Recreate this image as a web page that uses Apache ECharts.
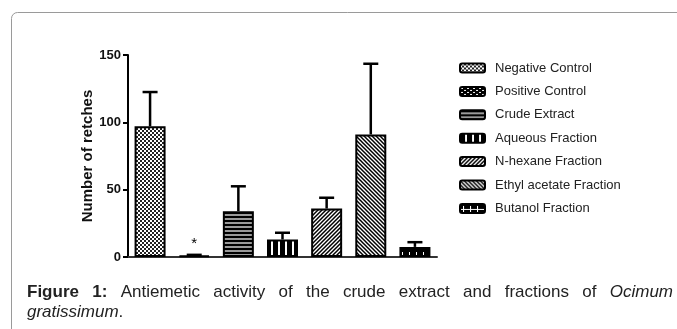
<!DOCTYPE html>
<html>
<head>
<meta charset="utf-8">
<script src="https://cdn.jsdelivr.net/npm/echarts@6/dist/echarts.min.js"></script>
<style>
html,body{margin:0;padding:0;background:#fff;}
#main{width:677px;height:329px;}
</style>
</head>
<body>
<div id="main"></div>
<script>
//数据
var categories = ['Negative Control','Positive Control','Crude Extract','Aqueous Fraction','N-hexane Fraction','Ethyl acetate Fraction','Butanol Fraction'];
var means = [97, 1, 34, 13, 36, 91, 7.5];//平均值
var sems = [25.5, 0.6, 18.5, 5, 8, 52.5, 3.5];//误差
var yTicks = [0, 50, 100, 150];
var starMarked = ['Positive Control'];

var FONT = '"Liberation Sans", Arial, sans-serif';

//图案小方块
var makeTile = function(w, h, draw){
	var c = document.createElement('canvas');
	c.width = w; c.height = h;
	var ctx = c.getContext('2d');
	draw(ctx, w, h);
	return c;
}
var tiles = [
	makeTile(4, 4, function(ctx){//棋盘
		ctx.fillStyle = '#fff'; ctx.fillRect(0,0,4,4);
		ctx.fillStyle = '#222'; ctx.fillRect(0,0,2,2); ctx.fillRect(2,2,2,2);
	}),
	makeTile(6, 4, function(ctx){
		ctx.fillStyle = '#000'; ctx.fillRect(0,0,6,4);
		ctx.fillStyle = '#fff'; ctx.fillRect(1,1,2,1); ctx.fillRect(4,3,2,1);
	}),
	makeTile(4, 4, function(ctx){//横线
		ctx.fillStyle = '#000'; ctx.fillRect(0,0,4,4);
		ctx.fillStyle = '#9a9a9a'; ctx.fillRect(0,2,4,2);
	}),
	makeTile(7, 4, function(ctx){//竖线
		ctx.fillStyle = '#000'; ctx.fillRect(0,0,7,4);
		ctx.fillStyle = '#fff'; ctx.fillRect(5,0,2,4);
	}),
	makeTile(4, 4, function(ctx){//斜线 /
		ctx.fillStyle = '#fff'; ctx.fillRect(0,0,4,4);
		ctx.strokeStyle = '#000'; ctx.lineWidth = 1.5;
		ctx.beginPath();
		ctx.moveTo(0,4); ctx.lineTo(4,0);
		ctx.moveTo(-1,1); ctx.lineTo(1,-1);
		ctx.moveTo(3,5); ctx.lineTo(5,3);
		ctx.stroke();
	}),
	makeTile(4, 4, function(ctx){//斜线 \
		ctx.fillStyle = '#fff'; ctx.fillRect(0,0,4,4);
		ctx.strokeStyle = '#000'; ctx.lineWidth = 1.5;
		ctx.beginPath();
		ctx.moveTo(0,0); ctx.lineTo(4,4);
		ctx.moveTo(-1,3); ctx.lineTo(1,5);
		ctx.moveTo(3,-1); ctx.lineTo(5,1);
		ctx.stroke();
	}),
	makeTile(7, 10, function(ctx){//十字
		ctx.fillStyle = '#000'; ctx.fillRect(0,0,7,10);
		ctx.fillStyle = '#fff'; ctx.fillRect(0,5,7,1); ctx.fillRect(3,2,1,7);
	})
];

var dom = document.getElementById('main');
var myChart = echarts.init(dom, null, {renderer:'canvas'});

//柱子系列, 每个类别一个系列方便图例
var series = [];
for(var i=0;i<categories.length;i++){
	var d = [];
	for(var j=0;j<categories.length;j++){
		d.push(j==i ? means[i] : '-');
	}
	series.push({
		name: categories[i],
		type: 'bar',
		data: d,
		barWidth: 31,
		barGap: '-100%',
		z: 3,
		itemStyle: {
			color: {image: tiles[i], repeat: 'repeat'},
			borderColor: '#000',
			borderWidth: 2
		},
		label: {
			show: starMarked.indexOf(categories[i]) >= 0,
			position: 'top',
			distance: 4,
			formatter: '*',
			color: '#000',
			fontSize: 15,
			fontFamily: FONT
		}
	});
}
//误差线
series.push({
	type: 'custom',
	z: 2,
	data: means.map(function(m, i){ return [i, m, m + sems[i]]; }),
	renderItem: function(params, api){
		var x = api.value(0);
		var base = api.coord([x, api.value(1)]);
		var top = api.coord([x, api.value(2)]);
		var hw = 7.5;
		return {
			type: 'group',
			children: [
				{type:'line', shape:{x1:base[0], y1:base[1], x2:top[0], y2:top[1]}, style:{stroke:'#000', lineWidth:2.5}},
				{type:'line', shape:{x1:top[0]-hw, y1:top[1], x2:top[0]+hw, y2:top[1]}, style:{stroke:'#000', lineWidth:2.5}}
			]
		};
	}
});

//图注, 两端对齐
var measure = document.createElement('canvas').getContext('2d');
var line1 = [
	{t:'Figure', f:'bold'}, {t:'1:', f:'bold'}, {t:'Antiemetic', f:''}, {t:'activity', f:''},
	{t:'of', f:''}, {t:'the', f:''}, {t:'crude', f:''}, {t:'extract', f:''}, {t:'and', f:''},
	{t:'fractions', f:''}, {t:'of', f:''}, {t:'Ocimum', f:'italic'}
];
var capSize = 17, capLeft = 27, capRight = 673, capY1 = 292, capY2 = 312;
var fontOf = function(f){ return (f ? f + ' ' : '') + capSize + 'px ' + FONT; }
var total = 0;
line1.forEach(function(w){ measure.font = fontOf(w.f); w.w = measure.measureText(w.t).width; total += w.w; });
var gap = (capRight - capLeft - total) / (line1.length - 1);
var graphics = [];
var cx = capLeft;
line1.forEach(function(w){
	graphics.push({type:'text', x:cx, y:capY1, style:{text:w.t, font:fontOf(w.f), fill:'#222', verticalAlign:'middle'}});
	cx += w.w + gap;
});
measure.font = fontOf('italic');
var gw = measure.measureText('gratissimum').width;
graphics.push({type:'text', x:capLeft, y:capY2, style:{text:'gratissimum', font:fontOf('italic'), fill:'#222', verticalAlign:'middle'}});
graphics.push({type:'text', x:capLeft+gw, y:capY2, style:{text:'.', font:fontOf(''), fill:'#222', verticalAlign:'middle'}});
//外框
graphics.push({type:'rect', z:-1, shape:{x:11.5, y:12.5, width:700, height:400, r:[6,0,0,0]}, style:{fill:'none', stroke:'#9a9a9a', lineWidth:1}});

var option = {
	animation: false,
	backgroundColor: '#fff',
	grid: {left:128, top:55, width:309, height:202},
	legend: {
		orient: 'vertical',
		left: 454,
		top: 56,
		itemWidth: 25,
		itemHeight: 9,
		itemGap: 9.4,
		selectedMode: false,
		data: categories,
		textStyle: {fontFamily: FONT, fontSize: 13, lineHeight: 14, color: '#222', padding: [0,0,0,5]}
	},
	xAxis: {
		type: 'category',
		data: categories,
		axisLine: {lineStyle: {color: '#333', width: 2}},
		axisTick: {show: false},
		axisLabel: {show: false}
	},
	yAxis: {
		type: 'value',
		min: yTicks[0],
		max: yTicks[yTicks.length-1],
		interval: yTicks[1] - yTicks[0],
		name: 'Number of retches',
		nameLocation: 'middle',
		nameGap: 33,
		nameTextStyle: {fontFamily: FONT, fontSize: 15, fontWeight: 'bold', color: '#111'},
		splitLine: {show: false},
		axisLine: {show: true, lineStyle: {color: '#000', width: 2}},
		axisTick: {show: true, length: 5, lineStyle: {color: '#000', width: 2}},
		axisLabel: {fontFamily: FONT, fontSize: 13, fontWeight: 'bold', color: '#111', margin: 7}
	},
	graphic: graphics,
	series: series
};
myChart.setOption(option);
</script>
</body>
</html>
